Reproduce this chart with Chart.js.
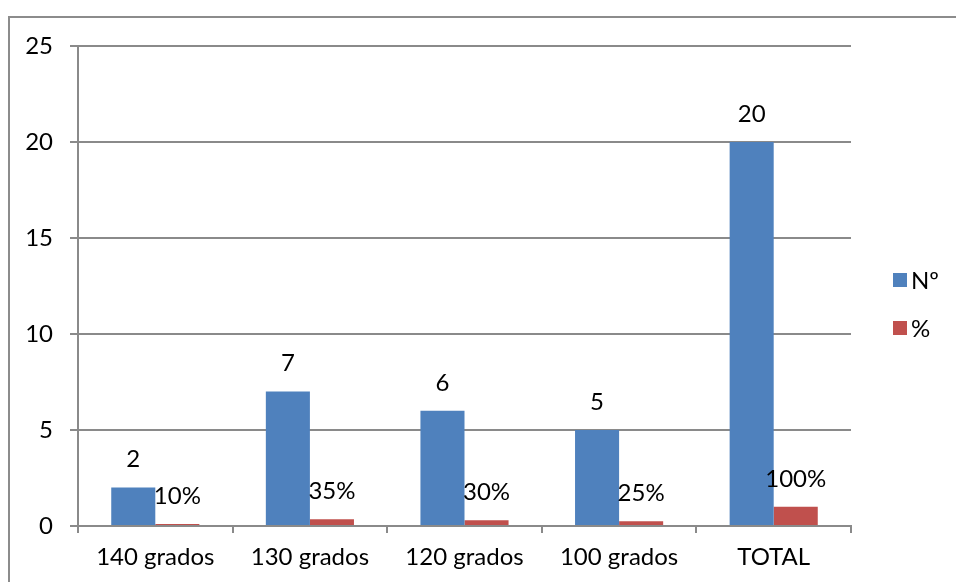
<!DOCTYPE html>
<html>
<head>
<meta charset="utf-8">
<script src="https://cdn.jsdelivr.net/npm/chart.js@4/dist/chart.umd.min.js"></script>
<style>
  html, body { margin: 0; padding: 0; background: #fff; }
  #wrap { width: 956px; height: 582px; position: relative; }
</style>
</head>
<body>
<div id="wrap"><canvas id="c" width="956" height="582"></canvas></div>
<script>
const categories = ['140 grados', '130 grados', '120 grados', '100 grados', 'TOTAL'];
const countValues = [2, 7, 6, 5, 20];
const shareValues = [0.10, 0.35, 0.30, 0.25, 1.00];
const seriesNames = ['Nº', '%'];
const yTicks = [0, 5, 10, 15, 20, 25];

const FONT = 'Lato, "Liberation Sans", sans-serif';
const FONT_SIZE = 24;
const GRID = '#8a8a8a';

// Outer frame of the chart object
const framePlugin = {
  id: 'frame',
  beforeDraw(chart) {
    const ctx = chart.ctx;
    ctx.save();
    ctx.strokeStyle = '#8c8c8c';
    ctx.lineWidth = 2;
    ctx.strokeRect(9, 17, 1000, 1000);
    ctx.restore();
  }
};

// Value labels above each bar
const valueLabels = {
  id: 'valueLabels',
  afterDatasetsDraw(chart) {
    const ctx = chart.ctx;
    ctx.save();
    ctx.font = FONT_SIZE + 'px ' + FONT;
    ctx.fillStyle = '#000';
    ctx.textAlign = 'center';
    ctx.textBaseline = 'middle';
    chart.data.datasets.forEach((ds, i) => {
      const meta = chart.getDatasetMeta(i);
      meta.data.forEach((bar, j) => {
        const v = ds.data[j];
        const txt = i === 0 ? String(v) : Math.round(v * 100) + '%';
        ctx.fillText(txt, bar.x, bar.y - 28);
      });
    });
    ctx.restore();
  }
};

// Legend at the right side
const sideLegend = {
  id: 'sideLegend',
  afterDraw(chart) {
    const ctx = chart.ctx;
    ctx.save();
    ctx.font = FONT_SIZE + 'px ' + FONT;
    ctx.textBaseline = 'middle';
    ctx.textAlign = 'left';
    chart.data.datasets.forEach((ds, i) => {
      const y = 280 + i * 48;
      ctx.fillStyle = ds.backgroundColor;
      ctx.fillRect(893, y - 7, 14, 14);
      ctx.fillStyle = '#000';
      ctx.fillText(ds.label, 911, y + 1);
    });
    ctx.restore();
  }
};

new Chart(document.getElementById('c'), {
  type: 'bar',
  data: {
    labels: categories,
    datasets: [
      { label: seriesNames[0], data: countValues, backgroundColor: '#4F81BD' },
      { label: seriesNames[1], data: shareValues, backgroundColor: '#C0504D' }
    ]
  },
  options: {
    responsive: false,
    animation: false,
    devicePixelRatio: 1,
    layout: { padding: { left: 0, top: 46, right: 105, bottom: 0 } },
    datasets: { bar: { categoryPercentage: 0.57, barPercentage: 1.0 } },
    plugins: { legend: { display: false }, tooltip: { enabled: false } },
    scales: {
      x: {
        offset: true,
        grid: { offset: true, drawOnChartArea: false, drawTicks: true, tickLength: 7, color: GRID, lineWidth: 2 },
        border: { display: true, color: GRID, width: 2 },
        ticks: { color: '#000', font: { family: FONT, size: FONT_SIZE }, padding: 10, maxRotation: 0 },
        afterFit(s) { s.height = 56; }
      },
      y: {
        min: 0, max: 25,
        afterBuildTicks(s) { s.ticks = yTicks.map(v => ({ value: v })); },
        grid: { color: GRID, lineWidth: 2, tickLength: 8 },
        border: { display: true, color: GRID, width: 2 },
        ticks: { color: '#000', font: { family: FONT, size: FONT_SIZE }, padding: 17 },
        afterFit(s) { s.width = 78; }
      }
    }
  },
  plugins: [framePlugin, valueLabels, sideLegend]
});
</script>
</body>
</html>
